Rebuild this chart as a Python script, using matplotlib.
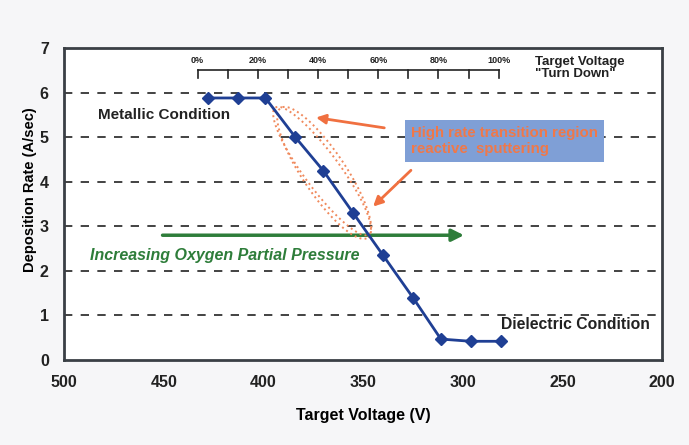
import numpy as np
import matplotlib
matplotlib.use("Agg")
import matplotlib.pyplot as plt

plt.rcParams['font.family'] = ['Liberation Sans', 'DejaVu Sans']
plt.rcParams['font.weight'] = 'bold'
plt.rcParams['axes.labelweight'] = 'bold'

# data
voltage = [428, 413, 399, 384, 370, 355, 340, 325, 311, 296, 281]
rate = [5.88, 5.88, 5.88, 5.0, 4.25, 3.3, 2.35, 1.4, 0.47, 0.42, 0.42]
x_ticks = [500, 450, 400, 350, 300, 250, 200]
y_ticks = [0, 1, 2, 3, 4, 5, 6, 7]
pct_ticks = [0, 10, 20, 30, 40, 50, 60, 70, 80, 90, 100]
pct_labels = [0, 20, 40, 60, 80, 100]
pct_v0, pct_v100 = 433, 282   # voltage at 0% and 100% turn down

fig = plt.figure(figsize=(6.89, 4.45), dpi=100, facecolor='#f6f6f8')
ax = fig.add_axes([0.093, 0.191, 0.868, 0.701])
ax.set_facecolor('white')

ax.set_xlim(500, 200)
ax.set_ylim(0, 7)
ax.set_xticks(x_ticks)
ax.set_yticks(y_ticks)
ax.tick_params(length=0, labelsize=11.5, colors='#222222')
ax.tick_params(axis='x', pad=11)
ax.tick_params(axis='y', pad=11)
for s in ax.spines.values():
    s.set_linewidth(2)
    s.set_color('#3a3f45')

for y in y_ticks[1:-1]:
    ax.axhline(y, color='#222222', ls=(0, (5, 5)), lw=1.2, zorder=1)

ax.plot(voltage, rate, color='#1f3f94', lw=2, marker='D', ms=6, zorder=4)

ax.set_xlabel('Target Voltage (V)', fontsize=11.5)
ax.xaxis.set_label_coords(0.5, -0.155)
ax.set_ylabel('Deposition Rate (A/sec)', fontsize=10.5)
ax.yaxis.set_label_coords(-0.045, 0.545)

# turn-down scale at the top
def pct_to_v(p):
    return pct_v0 + (pct_v100 - pct_v0) * p / 100.0

ax.plot([pct_to_v(0), pct_to_v(100)], [6.5, 6.5], color='#222222', lw=1.2)
for p in pct_ticks:
    ax.plot([pct_to_v(p)] * 2, [6.5, 6.32], color='#222222', lw=1.2)
for p in pct_labels:
    ax.text(pct_to_v(p), 6.62, f'{p}%', fontsize=6.5, ha='center', va='bottom', color='#222222')
ax.text(264, 6.56, 'Target Voltage\n"Turn Down"', fontsize=9.5, ha='left', va='center',
        color='#222222', linespacing=1.0, fontweight='bold')

# condition labels
ax.text(483, 5.5, 'Metallic Condition', fontsize=11, va='center', color='#222222',
        fontweight='bold')
ax.text(281, 0.8, 'Dielectric Condition', fontsize=11.3, va='center', color='#222222',
        fontweight='bold')

# oxygen arrow
ax.annotate('', xy=(298, 2.8), xytext=(452, 2.8),
            arrowprops=dict(arrowstyle='-|>', color='#2e7d3a', lw=2.5, mutation_scale=18))
ax.text(487, 2.35, 'Increasing Oxygen Partial Pressure', fontsize=11.5, style='italic',
        color='#2e7d3a', va='center', fontweight='bold')

# transition region loop
t = np.linspace(0, 2 * np.pi, 200)
for c, a, b in [((370.6, 4.24), (-23.5, -1.42), (-7.0, 0.25)),
                ((369.5, 4.2), (-22.0, -1.45), (-8.5, 0.3))]:
    ex = c[0] + a[0] * np.cos(t) + b[0] * np.sin(t)
    ey = c[1] + a[1] * np.cos(t) + b[1] * np.sin(t)
    ax.plot(ex, ey, color='#f08a5d', lw=1.4, ls=':', zorder=3)

ax.text(326, 4.92, 'High rate transition region\nreactive  sputtering', fontsize=10.8,
        color='#f07848', va='center', ha='left', linespacing=1.15, fontweight='bold',
        bbox=dict(boxstyle='square,pad=0.4', fc='#7f9fd6', ec='none'))
ax.annotate('', xy=(375, 5.45), xytext=(338, 5.2),
            arrowprops=dict(arrowstyle='-|>', color='#f07040', lw=2, mutation_scale=14))
ax.annotate('', xy=(346, 3.4), xytext=(325, 4.3),
            arrowprops=dict(arrowstyle='-|>', color='#f07040', lw=2, mutation_scale=14))

fig.savefig('out.png', dpi=100, facecolor=fig.get_facecolor())
